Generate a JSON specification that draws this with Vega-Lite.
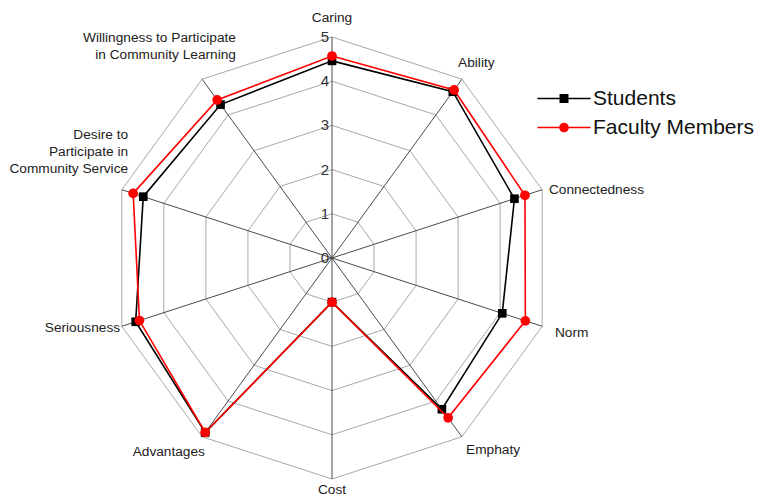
{
  "$schema": "https://vega.github.io/schema/vega-lite/v6.json",
  "width": 757,
  "height": 498,
  "autosize": {"type": "none"},
  "padding": 0,
  "background": "white",
  "config": {"view": {"stroke": null}, "font": "Liberation Sans"},
  "datasets": {
    "axes": [
      {"axis": "Caring", "i": 0, "levels": [1, 2, 3, 4, 5]},
      {"axis": "Ability", "i": 1, "levels": [1, 2, 3, 4, 5]},
      {"axis": "Connectedness", "i": 2, "levels": [1, 2, 3, 4, 5]},
      {"axis": "Norm", "i": 3, "levels": [1, 2, 3, 4, 5]},
      {"axis": "Emphaty", "i": 4, "levels": [1, 2, 3, 4, 5]},
      {"axis": "Cost", "i": 5, "levels": [1, 2, 3, 4, 5]},
      {"axis": "Advantages", "i": 6, "levels": [1, 2, 3, 4, 5]},
      {"axis": "Seriousness", "i": 7, "levels": [1, 2, 3, 4, 5]},
      {"axis": "Desire to\nParticipate in\nCommunity Service", "i": 8, "levels": [1, 2, 3, 4, 5]},
      {"axis": "Willingness to Participate\nin Community Learning", "i": 9, "levels": [1, 2, 3, 4, 5]}
    ],
    "ticks": [{"tick": 0}, {"tick": 1}, {"tick": 2}, {"tick": 3}, {"tick": 4}, {"tick": 5}],
    "scores": [
      {"series": "Students", "i": 0, "value": 4.46},
      {"series": "Students", "i": 1, "value": 4.65},
      {"series": "Students", "i": 2, "value": 4.34},
      {"series": "Students", "i": 3, "value": 4.05},
      {"series": "Students", "i": 4, "value": 4.23},
      {"series": "Students", "i": 5, "value": 1.0},
      {"series": "Students", "i": 6, "value": 4.88},
      {"series": "Students", "i": 7, "value": 4.67},
      {"series": "Students", "i": 8, "value": 4.49},
      {"series": "Students", "i": 9, "value": 4.29},
      {"series": "Faculty Members", "i": 0, "value": 4.57},
      {"series": "Faculty Members", "i": 1, "value": 4.7},
      {"series": "Faculty Members", "i": 2, "value": 4.59},
      {"series": "Faculty Members", "i": 3, "value": 4.6},
      {"series": "Faculty Members", "i": 4, "value": 4.47},
      {"series": "Faculty Members", "i": 5, "value": 1.0},
      {"series": "Faculty Members", "i": 6, "value": 4.88},
      {"series": "Faculty Members", "i": 7, "value": 4.58},
      {"series": "Faculty Members", "i": 8, "value": 4.73},
      {"series": "Faculty Members", "i": 9, "value": 4.42}
    ]
  },
  "layer": [
    {
      "data": {"name": "axes"},
      "transform": [
        {"flatten": ["levels"], "as": ["level"]},
        {"calculate": "datum.i * PI / 5", "as": "a"},
        {"calculate": "datum.level * sin(datum.a)", "as": "x"},
        {"calculate": "datum.level * cos(datum.a)", "as": "y"}
      ],
      "mark": {"type": "line", "interpolate": "linear-closed", "stroke": "#a8a8a8", "strokeWidth": 1},
      "encoding": {
        "x": {"field": "x", "type": "quantitative", "axis": null, "scale": {"domain": [-7.511, 9.615], "nice": false, "zero": false}},
        "y": {"field": "y", "type": "quantitative", "axis": null, "scale": {"domain": [-5.43, 5.837], "nice": false, "zero": false}},
        "detail": {"field": "level"},
        "order": {"field": "i"}
      }
    },
    {
      "data": {"name": "axes"},
      "transform": [
        {"calculate": "datum.i * PI / 5", "as": "a"},
        {"calculate": "5 * sin(datum.a)", "as": "x5"},
        {"calculate": "5 * cos(datum.a)", "as": "y5"}
      ],
      "mark": {"type": "rule", "stroke": "#4a4a4a", "strokeWidth": 1},
      "encoding": {
        "x": {"field": "x5", "type": "quantitative", "axis": null, "scale": {"domain": [-7.511, 9.615], "nice": false, "zero": false}},
        "y": {"field": "y5", "type": "quantitative", "axis": null, "scale": {"domain": [-5.43, 5.837], "nice": false, "zero": false}},
        "x2": {"datum": 0},
        "y2": {"datum": 0}
      }
    },
    {
      "data": {"name": "ticks"},
      "mark": {"type": "text", "align": "right", "baseline": "middle", "dx": -3, "fontSize": 15, "color": "#333333"},
      "encoding": {
        "x": {"datum": 0, "type": "quantitative", "axis": null, "scale": {"domain": [-7.511, 9.615], "nice": false, "zero": false}},
        "y": {"field": "tick", "type": "quantitative", "axis": null, "scale": {"domain": [-5.43, 5.837], "nice": false, "zero": false}},
        "text": {"field": "tick"}
      }
    },
    {
      "data": {"name": "axes"},
      "transform": [
        {"calculate": "datum.i * PI / 5", "as": "a"},
        {"calculate": "sin(datum.a)", "as": "sa"},
        {"calculate": "cos(datum.a)", "as": "ca"},
        {"calculate": "5.16 * datum.sa", "as": "lx"},
        {"calculate": "5.16 * datum.ca", "as": "ly"}
      ],
      "mark": {
        "type": "text",
        "fontSize": 13.7,
        "lineHeight": 17,
        "color": "#222222",
        "lineBreak": "\n",
        "align": {"expr": "datum.sa > 0.3 ? 'left' : (datum.sa < -0.3 ? 'right' : 'center')"},
        "baseline": {"expr": "datum.ca > 0.5 ? 'bottom' : (datum.ca < -0.5 ? 'top' : 'middle')"},
        "dx": {"expr": "datum.i == 1 ? -8 : (datum.i == 3 ? 6 : (datum.i == 6 ? 7 : (datum.i == 7 ? 5 : (datum.i == 8 ? 13 : (datum.i == 9 ? 38 : 0)))))"},
        "dy": {"expr": "datum.i == 0 ? -5 : (datum.i == 1 ? -3 : (datum.i == 2 ? 2 : (datum.i == 3 ? 5 : (datum.i == 5 ? -3 : (datum.i == 6 ? 2 : (datum.i == 8 ? -53 : (datum.i == 9 ? -28 : 0)))))))"}
      },
      "encoding": {
        "x": {"field": "lx", "type": "quantitative", "axis": null, "scale": {"domain": [-7.511, 9.615], "nice": false, "zero": false}},
        "y": {"field": "ly", "type": "quantitative", "axis": null, "scale": {"domain": [-5.43, 5.837], "nice": false, "zero": false}},
        "text": {"field": "axis"}
      }
    },
    {
      "data": {"name": "scores"},
      "transform": [
        {"filter": "datum.series == 'Students'"},
        {"calculate": "datum.i * PI / 5", "as": "a"},
        {"calculate": "datum.value * sin(datum.a)", "as": "x"},
        {"calculate": "datum.value * cos(datum.a)", "as": "y"}
      ],
      "mark": {"type": "line", "interpolate": "linear-closed", "stroke": "#000000", "strokeWidth": 1.6},
      "encoding": {
        "x": {"field": "x", "type": "quantitative", "axis": null, "scale": {"domain": [-7.511, 9.615], "nice": false, "zero": false}},
        "y": {"field": "y", "type": "quantitative", "axis": null, "scale": {"domain": [-5.43, 5.837], "nice": false, "zero": false}},
        "order": {"field": "i"}
      }
    },
    {
      "data": {"name": "scores"},
      "transform": [
        {"filter": "datum.series == 'Students'"},
        {"calculate": "datum.i * PI / 5", "as": "a"},
        {"calculate": "datum.value * sin(datum.a)", "as": "x"},
        {"calculate": "datum.value * cos(datum.a)", "as": "y"}
      ],
      "mark": {"type": "point", "shape": "square", "filled": true, "color": "#000000", "size": 75, "opacity": 1},
      "encoding": {
        "x": {"field": "x", "type": "quantitative", "axis": null, "scale": {"domain": [-7.511, 9.615], "nice": false, "zero": false}},
        "y": {"field": "y", "type": "quantitative", "axis": null, "scale": {"domain": [-5.43, 5.837], "nice": false, "zero": false}}
      }
    },
    {
      "data": {"name": "scores"},
      "transform": [
        {"filter": "datum.series == 'Faculty Members'"},
        {"calculate": "datum.i * PI / 5", "as": "a"},
        {"calculate": "datum.value * sin(datum.a)", "as": "x"},
        {"calculate": "datum.value * cos(datum.a)", "as": "y"}
      ],
      "mark": {"type": "line", "interpolate": "linear-closed", "stroke": "#ff0000", "strokeWidth": 1.6},
      "encoding": {
        "x": {"field": "x", "type": "quantitative", "axis": null, "scale": {"domain": [-7.511, 9.615], "nice": false, "zero": false}},
        "y": {"field": "y", "type": "quantitative", "axis": null, "scale": {"domain": [-5.43, 5.837], "nice": false, "zero": false}},
        "order": {"field": "i"}
      }
    },
    {
      "data": {"name": "scores"},
      "transform": [
        {"filter": "datum.series == 'Faculty Members'"},
        {"calculate": "datum.i * PI / 5", "as": "a"},
        {"calculate": "datum.value * sin(datum.a)", "as": "x"},
        {"calculate": "datum.value * cos(datum.a)", "as": "y"}
      ],
      "mark": {"type": "point", "shape": "circle", "filled": true, "color": "#ff0000", "size": 95, "opacity": 1},
      "encoding": {
        "x": {"field": "x", "type": "quantitative", "axis": null, "scale": {"domain": [-7.511, 9.615], "nice": false, "zero": false}},
        "y": {"field": "y", "type": "quantitative", "axis": null, "scale": {"domain": [-5.43, 5.837], "nice": false, "zero": false}}
      }
    },
    {
      "data": {"name": "scores"},
      "transform": [{"filter": "false"}],
      "mark": {"type": "point", "filled": true, "opacity": 1},
      "encoding": {
        "color": {
          "field": "series",
          "type": "nominal",
          "scale": {"domain": ["Students", "Faculty Members"], "range": ["#000000", "#ff0000"]},
          "legend": {
            "orient": "none",
            "legendX": 553.5,
            "legendY": 88,
            "title": null,
            "padding": 0,
            "labelFontSize": 21,
            "labelFont": "Liberation Sans",
            "labelColor": "#111111",
            "labelOffset": 18.5,
            "labelLimit": 400,
            "symbolSize": 400,
            "symbolStrokeWidth": 0,
            "symbolOpacity": 1,
            "rowPadding": 7
          }
        },
        "shape": {
          "field": "series",
          "type": "nominal",
          "scale": {
            "domain": ["Students", "Faculty Members"],
            "range": [
              "M-2.65,-0.08H2.65V0.08H-2.65Z M-0.45,-0.45H0.45V0.45H-0.45Z",
              "M-2.65,-0.08H-0.45V0.08H-2.65Z M0.45,-0.08H2.65V0.08H0.45Z M0.48,0A0.48,0.48 0 1,1 -0.48,0A0.48,0.48 0 1,1 0.48,0Z"
            ]
          }
        }
      }
    }
  ]
}
